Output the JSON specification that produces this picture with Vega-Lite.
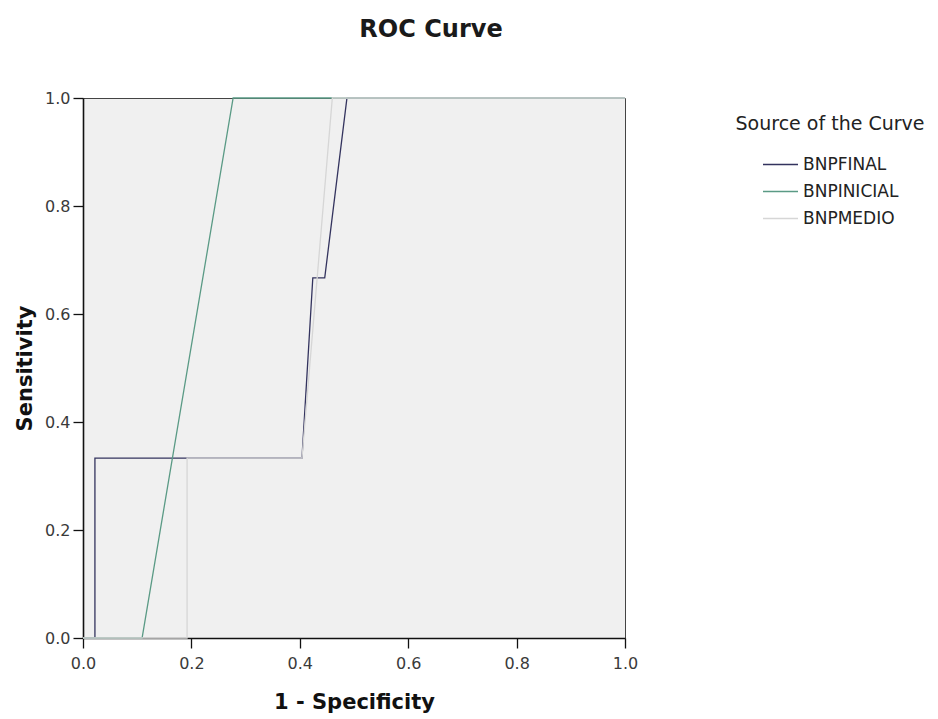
{
  "$schema": "https://vega.github.io/schema/vega-lite/v6.json",
  "width": 542,
  "height": 540,
  "autosize": {"type": "none"},
  "padding": {"left": 83, "top": 98, "right": 313, "bottom": 81},
  "background": "white",
  "title": {"text": "ROC Curve", "font": "DejaVu Sans", "fontSize": 24, "fontWeight": "bold", "color": "#1a1a1a", "anchor": "middle", "frame": "group", "baseline": "alphabetic", "offset": 29, "dx": 77},
  "config": {
    "view": {"fill": "#f0f0f0", "stroke": "#444444", "strokeWidth": 1},
    "axis": {"grid": false, "labelFlush": false, "domainColor": "#111111", "domainWidth": 1.6, "tickColor": "#111111", "tickWidth": 1.3, "labelFont": "DejaVu Sans", "labelFontSize": 16, "labelColor": "#3a3a3a", "titleFont": "DejaVu Sans", "titleFontSize": 21, "titleFontWeight": "bold", "titleColor": "#111111"}
  },
  "data": {"values": [
    {"curve": "BNPFINAL", "o": 1, "fpr": 0.0, "tpr": 0.0},
    {"curve": "BNPFINAL", "o": 2, "fpr": 0.022, "tpr": 0.0},
    {"curve": "BNPFINAL", "o": 3, "fpr": 0.022, "tpr": 0.333},
    {"curve": "BNPFINAL", "o": 4, "fpr": 0.404, "tpr": 0.333},
    {"curve": "BNPFINAL", "o": 5, "fpr": 0.424, "tpr": 0.667},
    {"curve": "BNPFINAL", "o": 6, "fpr": 0.446, "tpr": 0.667},
    {"curve": "BNPFINAL", "o": 7, "fpr": 0.487, "tpr": 1.0},
    {"curve": "BNPFINAL", "o": 8, "fpr": 1.0, "tpr": 1.0},
    {"curve": "BNPINICIAL", "o": 1, "fpr": 0.0, "tpr": 0.0},
    {"curve": "BNPINICIAL", "o": 2, "fpr": 0.109, "tpr": 0.0},
    {"curve": "BNPINICIAL", "o": 3, "fpr": 0.277, "tpr": 1.0},
    {"curve": "BNPINICIAL", "o": 4, "fpr": 1.0, "tpr": 1.0},
    {"curve": "BNPMEDIO", "o": 1, "fpr": 0.0, "tpr": 0.0},
    {"curve": "BNPMEDIO", "o": 2, "fpr": 0.192, "tpr": 0.0},
    {"curve": "BNPMEDIO", "o": 3, "fpr": 0.192, "tpr": 0.333},
    {"curve": "BNPMEDIO", "o": 4, "fpr": 0.404, "tpr": 0.333},
    {"curve": "BNPMEDIO", "o": 5, "fpr": 0.46, "tpr": 1.0},
    {"curve": "BNPMEDIO", "o": 6, "fpr": 1.0, "tpr": 1.0}
  ]},
  "mark": {"type": "line", "strokeWidth": 1.3, "clip": false},
  "encoding": {
    "x": {"field": "fpr", "type": "quantitative", "scale": {"domain": [0, 1], "nice": false}, "axis": {"values": [0, 0.2, 0.4, 0.6, 0.8, 1.0], "format": ".1f", "title": "1 - Specificity", "tickSize": 10, "labelPadding": 7, "titlePadding": 20}},
    "y": {"field": "tpr", "type": "quantitative", "scale": {"domain": [0, 1], "nice": false}, "axis": {"values": [0, 0.2, 0.4, 0.6, 0.8, 1.0], "format": ".1f", "title": "Sensitivity", "tickSize": 10, "labelPadding": 3, "titlePadding": 9}},
    "order": {"field": "o", "type": "quantitative"},
    "color": {"field": "curve", "type": "nominal", "sort": ["BNPMEDIO", "BNPINICIAL", "BNPFINAL"],
      "scale": {"domain": ["BNPFINAL", "BNPINICIAL", "BNPMEDIO"], "range": ["#33335e", "#5a9a85", "#d6d6d6"]},
      "legend": {"title": "Source of the Curve", "orient": "none", "legendX": 653, "legendY": 17, "titleAnchor": "middle", "titleLimit": 400, "titleFont": "DejaVu Sans", "titleFontSize": 19, "titleFontWeight": "normal", "titleColor": "#222222", "titlePadding": 12, "labelFont": "DejaVu Sans", "labelFontSize": 17, "labelColor": "#222222", "labelLimit": 300, "symbolType": "stroke", "symbolSize": 1225, "symbolStrokeWidth": 1.5, "rowPadding": -10, "labelOffset": 4}
    }
  }
}
